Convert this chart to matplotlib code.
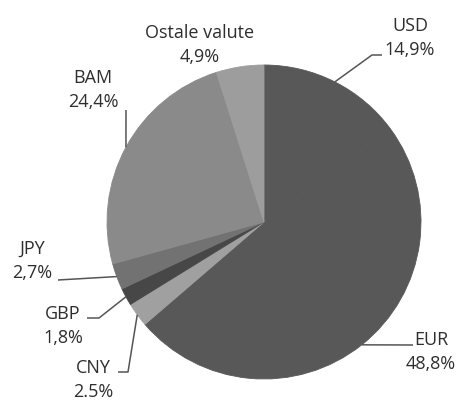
import numpy as np
from matplotlib import pyplot as plt

plt.rcParams['font.family'] = ['Open Sans', 'DejaVu Sans']

# Data
labels = ['USD', 'EUR', 'CNY', 'GBP', 'JPY', 'BAM', 'Ostale valute']
shares = [14.9, 48.8, 2.5, 1.8, 2.7, 24.4, 4.9]
share_text = ['14,9%', '48,8%', '2.5%', '1,8%', '2,7%', '24,4%', '4,9%']
colors = ['#585858', '#585858', '#a0a0a0', '#474747', '#727272', '#8a8a8a', '#9d9d9d']

# layout in pixels (y from top): label centre, leader points after the wedge edge
H = 404
label_pos = [(410, 38), (431, 352), (93, 380), (63, 326), (32, 261), (93, 90), (200, 45)]
leaders = [
    [(372, 55), (382, 55)],
    [(413, 345)],
    [(128, 372), (118, 372)],
    [(99, 318), (87, 318)],
    [(58, 280)],
    [(126, 110)],
    [],
]

fig = plt.figure(figsize=(4.64, 4.04), dpi=100)
ax = fig.add_axes([0, 0, 1, 1])

cx, cy, r = 264, H - 222, 157
wedges, _ = ax.pie(shares, colors=colors, startangle=90, counterclock=False,
                   center=(cx, cy), radius=r, wedgeprops={'linewidth': 0.6},
                   frame=True)
for w, c in zip(wedges, colors):
    w.set_edgecolor(c)
ax.set_xlim(0, 464)
ax.set_ylim(0, H)
ax.set_aspect('equal')
ax.axis('off')

for w, lab, txt, pos, lead in zip(wedges, labels, share_text, label_pos, leaders):
    mid = np.deg2rad((w.theta1 + w.theta2) / 2)
    if lead:
        xs = [cx + r * np.cos(mid)] + [p[0] for p in lead]
        ys = [cy + r * np.sin(mid)] + [H - p[1] for p in lead]
        ax.plot(xs, ys, color='#555555', lw=1.1, solid_capstyle='butt')
    ax.text(pos[0], H - pos[1], lab + '\n' + txt, ha='center', va='center',
            fontsize=13, color='#2e2e2e', linespacing=1.45)

plt.savefig('out.png', dpi=100)
